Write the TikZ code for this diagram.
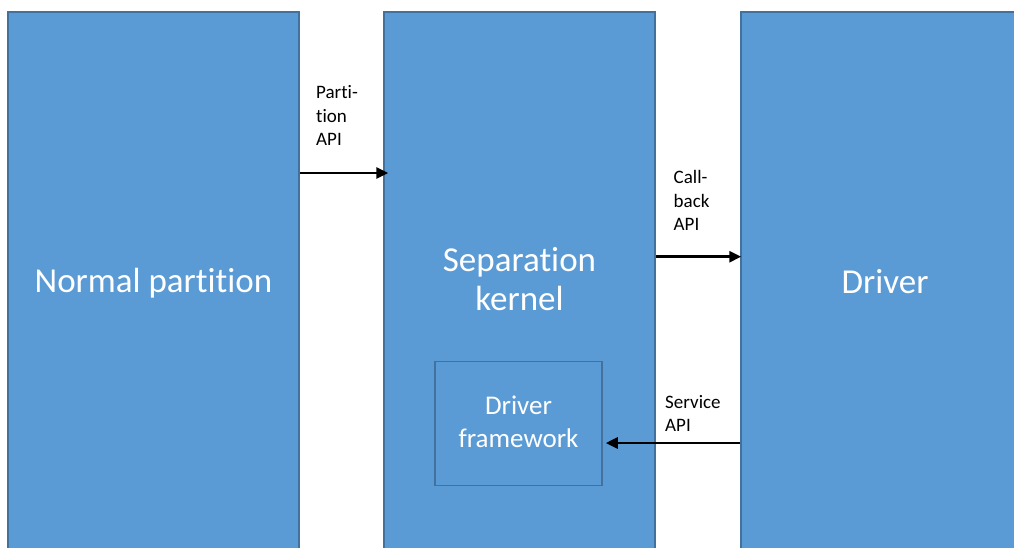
\documentclass[tikz,border=0pt]{standalone}
\usepackage{fontspec}
\setmainfont{Carlito}[RawFeature={-liga;-clig;-calt;-dlig}]
\usetikzlibrary{arrows.meta,calc}
\definecolor{boxfill}{HTML}{5B9BD5}
\definecolor{boxline}{HTML}{41719C}
\tikzset{
  block/.style={draw=boxline, fill=boxfill, line width=1.5pt, inner sep=0,
    minimum width=#1, minimum height=543pt},
  inner/.style={draw=boxline, line width=1.5pt, inner sep=0,
    minimum width=167pt, minimum height=124pt},
  bigtext/.style={text=white, inner sep=0, align=center,
    font=\fontsize{35}{39}\selectfont},
  midtext/.style={text=white, inner sep=0, align=center,
    font=\fontsize{27}{33}\selectfont},
  apilabel/.style={text=black, inner sep=0, align=left,
    font=\fontsize{19}{23.5}\selectfont},
  flow/.style={line width=2.8pt, -{Triangle[length=12pt,width=11pt]}}
}
\begin{document}
\begin{tikzpicture}[x=1pt,y=-1pt]
  \useasboundingbox (0,0) rectangle (1014,547);
  \clip (0,0) rectangle (1014,547);

  % the three partitions
  \node[block=291pt] (np)  at (153.5,283.5) {};
  \node[block=271pt] (sk)  at (519.5,283.5) {};
  \node[block=288pt] (drv) at (885,283.5) {};
  \node[inner] (fw) at (518.5,423.5) {};

  % box titles
  \node[bigtext, anchor=base]  (npt)  at (np.center |- 0,292) {Normal partition};
  \node[bigtext, anchor=south] (skt)  at (sk.center |- 0,311) {Separation\\kernel};
  \node[bigtext, anchor=base]  (drvt) at (drv.center |- 0,293) {Driver};
  \node[midtext, anchor=south] (fwt)  at (fw.center |- 0,448) {Driver\\framework};

  % interfaces
  \coordinate (ya) at (0,173);
  \coordinate (yb) at (0,256.7);
  \coordinate (yc) at (0,443);
  \draw[flow] (np.east |- ya) -- ($(sk.west |- ya)+(5,0)$);
  \draw[flow] (sk.east |- yb) -- ($(drv.west |- yb)+(1,0)$);
  \draw[flow] (drv.west |- yc) -- ($(fw.east |- yc)+(3,0)$);

  \node[apilabel, anchor=south west] (pal) at (316,146) {Parti-\\tion\\API};
  \node[apilabel, anchor=south west] (cal) at (673.5,230.7) {Call-\\back\\API};
  \node[apilabel, anchor=south west] (sal) at (665,431.7) {Service\\API};
\end{tikzpicture}
\end{document}
